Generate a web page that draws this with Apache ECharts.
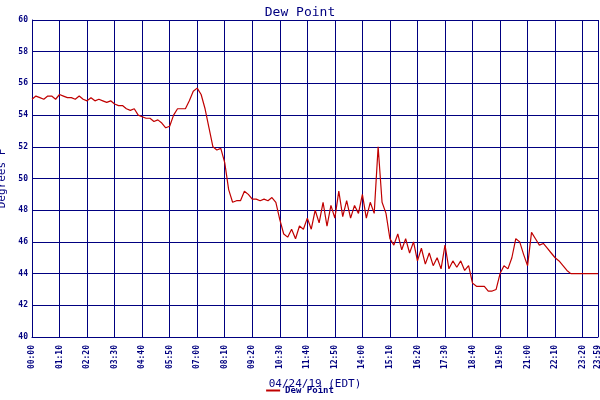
<!DOCTYPE html><html><head><meta charset="utf-8"><script src="https://cdn.jsdelivr.net/npm/echarts@6/dist/echarts.min.js"></script></head><body style="margin:0"><div id="c" style="width:600px;height:400px"></div><script>
const dew=[55.0,55.2,55.1,55.0,55.2,55.2,55.0,55.3,55.2,55.1,55.1,55.0,55.2,55.0,54.9,55.1,54.9,55.0,54.9,54.8,54.9,54.7,54.6,54.6,54.4,54.3,54.4,54.0,53.9,53.8,53.8,53.6,53.7,53.5,53.2,53.3,54.0,54.4,54.4,54.4,54.9,55.5,55.7,55.3,54.4,53.2,52.0,51.8,51.9,51.0,49.3,48.5,48.6,48.6,49.2,49.0,48.7,48.7,48.6,48.7,48.6,48.8,48.5,47.4,46.5,46.3,46.8,46.2,47.0,46.8,47.5,46.8,48.0,47.2,48.5,47.0,48.3,47.5,49.2,47.6,48.6,47.5,48.3,47.8,49.0,47.5,48.5,47.8,52.0,48.5,47.8,46.2,45.8,46.5,45.5,46.2,45.3,46.0,44.8,45.6,44.6,45.3,44.5,45.0,44.3,45.8,44.3,44.8,44.4,44.8,44.2,44.5,43.4,43.2,43.2,43.2,42.9,42.9,43.0,44.0,44.5,44.3,45.0,46.2,46.0,45.2,44.5,46.6,46.2,45.8,45.9,45.6,45.3,45.0,44.8,44.5,44.2,44.0,44.0,44.0,44.0,44.0,44.0,44.0,44.0];
const minutes=dew.map((v,i)=>Math.min(i*10,1439));
const navy='#000080',F='DejaVu Sans Mono';
const fmt=m=>String(Math.floor(m/60)).padStart(2,'0')+':'+String(m%60).padStart(2,'0');
echarts.init(document.getElementById('c')).setOption({animation:false,backgroundColor:'#fff',
title:{text:'Dew Point',left:'center',top:1,textStyle:{color:navy,fontFamily:F,fontSize:13,fontWeight:'normal'}},
legend:{bottom:0,left:'center',itemWidth:14,itemHeight:2,icon:'rect',textStyle:{color:navy,fontFamily:F,fontSize:9,fontWeight:'bold'}},
grid:{left:32,right:2,top:20,bottom:63,containLabel:false,outerBoundsMode:'none'},
xAxis:{type:'value',min:0,max:1439,interval:70,name:'04/24/19 (EDT)',nameLocation:'middle',nameGap:42,nameTextStyle:{color:navy,fontFamily:F,fontSize:11},
axisLine:{lineStyle:{color:navy}},axisTick:{show:false},splitLine:{lineStyle:{color:navy,width:1}},
axisLabel:{rotate:90,color:navy,fontFamily:F,fontSize:8,fontWeight:'bold',showMaxLabel:true,formatter:v=>fmt(v)}},
yAxis:{type:'value',min:40,max:60,interval:2,name:'Degrees F',nameLocation:'middle',nameGap:24,nameTextStyle:{color:navy,fontFamily:F,fontSize:11},
axisLine:{show:true,lineStyle:{color:navy}},axisTick:{show:false},splitLine:{lineStyle:{color:navy,width:1}},
axisLabel:{color:navy,fontFamily:F,fontSize:8,fontWeight:'bold',margin:4}},
series:[{name:'Dew Point',type:'line',showSymbol:false,color:'#c00000',lineStyle:{width:1.2},data:minutes.map((m,i)=>[m,dew[i]])}]});
</script></body></html>
